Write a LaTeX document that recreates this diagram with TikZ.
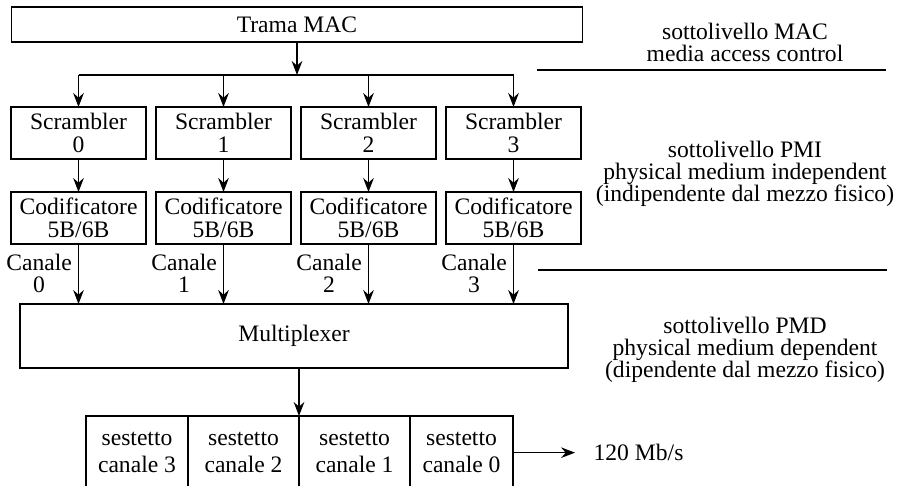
\documentclass[tikz,border=0pt]{standalone}
\usepackage{fontspec}
\setmainfont{Liberation Serif}
\usetikzlibrary{arrows.meta,positioning}

\begin{document}
\begin{tikzpicture}[x=0.75pt, y=-0.75pt, line width=0.9pt,
    >={Stealth[length=10.5pt,width=8pt,inset=3.5pt]},
    every node/.style={font=\fontsize{17.7}{17.6}\selectfont, align=center},
    box/.style={draw, inner sep=0pt, outer sep=0pt, minimum height=39pt},
    blk/.style={box, minimum width=101.25pt},
    cell/.style={box, minimum height=55pt, font=\fontsize{17.7}{20.3}\selectfont},
    layer/.style={font=\fontsize{17.7}{16.5}\selectfont}]
    \useasboundingbox (0,0) rectangle (902,485);
    % sottolivello MAC
    \node[box, minimum width=428.25pt, minimum height=26.25pt] (mac) at (297,24.5) {Trama MAC};
    \coordinate (bus) at (297,75);
    \draw[->] (mac.south) -- (bus);
    \node[box, minimum width=411pt, minimum height=48pt] (mux) at (294,336) {Multiplexer};
    % una colonna per canale
    \foreach \i in {0,...,3} {
        \node[blk] (scr\i) at (78.5+145*\i,133) {Scrambler\\\i};
        \node[blk] (cod\i) at (78.5+145*\i,218) {Codificatore\\5B/6B};
        \draw[->] (scr\i |- bus) -- (scr\i);
        \draw[->] (scr\i) -- (cod\i);
        \draw[->] (cod\i) -- (cod\i |- mux.north);
        \node[layer, anchor=east, inner sep=0pt] (can\i) at ([xshift=-4.5pt,yshift=-21.75pt]cod\i.south) {Canale\\\i};
    }
    \draw (scr0 |- bus) -- (scr3 |- bus);
    % sestetti in uscita
    \node[cell, minimum width=76.5pt, anchor=north west] (ses3) at (86,416) {sestetto\\canale 3};
    \node[cell, minimum width=83.25pt, right=0pt of ses3] (ses2) {sestetto\\canale 2};
    \node[cell, minimum width=83.25pt, right=0pt of ses2] (ses1) {sestetto\\canale 1};
    \node[cell, minimum width=77.25pt, right=0pt of ses1] (ses0) {sestetto\\canale 0};
    \draw[->] (ses1.north west |- mux.south) -- (ses1.north west);
    \node[anchor=west, inner sep=0pt] (rate) at (593,452) {120 Mb/s};
    \draw[->, shorten >=13.5pt] (ses0.east) -- (rate.west |- ses0.east);
    % sottolivelli
    \node[layer] (lmac) at (745,42.5) {sottolivello MAC\\media access control};
    \node[layer] (lpmi) at (745,173.5) {sottolivello PMI\\physical medium independent\\(indipendente dal mezzo fisico)};
    \node[layer] (lpmd) at (745,349.5) {sottolivello PMD\\physical medium dependent\\(dipendente dal mezzo fisico)};
    \draw (537,70) -- (886,70);
    \draw (538,270) -- (887,270);
\end{tikzpicture}
\end{document}
